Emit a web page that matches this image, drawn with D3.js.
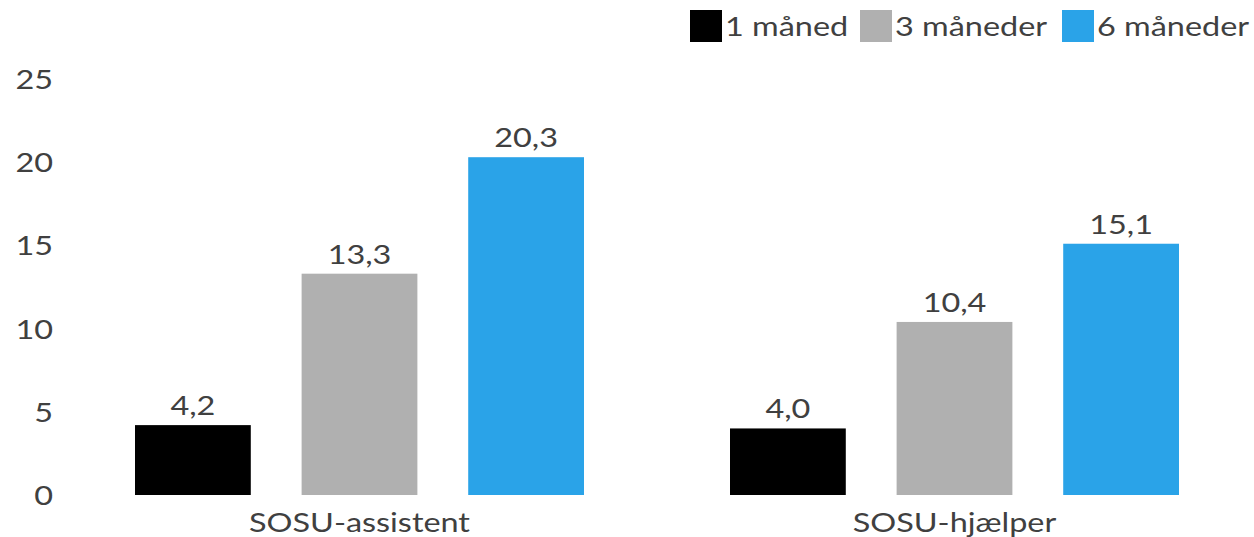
<!DOCTYPE html>
<html>
<head>
<meta charset="utf-8">
<script src="https://cdn.jsdelivr.net/npm/d3@7"></script>
<style>
  html, body { margin: 0; padding: 0; background: #ffffff; }
  svg { display: block; }
  text { font-family: Lato, "Open Sans", sans-serif; fill: #404040; }
</style>
</head>
<body>
<svg id="chart" width="1254" height="537"></svg>
<script>
const categories = ["SOSU-assistent", "SOSU-hjælper"];
const seriesNames = ["1 måned", "3 måneder", "6 måneder"];
const seriesColors = ["#000000", "#b0b0b0", "#2aa3e8"];
const values1 = [4.2, 4.0];
const values3 = [13.3, 10.4];
const values6 = [20.3, 15.1];
const yTicks = [0, 5, 10, 15, 20, 25];

const seriesValues = [values1, values3, values6];
const data = categories.map((c, i) => ({
  cat: c,
  vals: seriesNames.map((s, j) => ({ series: s, idx: j, value: seriesValues[j][i] }))
}));

const svg = d3.select("#chart");
const fontSize = 27;
const stretch = "scale(1.2,1)";

const y = d3.scaleLinear().domain([0, 25]).range([495, 79]);
const x0 = d3.scaleBand().domain(categories).range([62, 1252]).padding(0);
const x1 = d3.scaleBand().domain(seriesNames).range([73, 522]).paddingInner(0.305).paddingOuter(0);
const color = d3.scaleOrdinal().domain(seriesNames).range(seriesColors);
const fmt = v => d3.format(".1f")(v).replace(".", ",");

// Y axis
const yAxis = d3.axisLeft(y).tickValues(yTicks).tickSize(0).tickPadding(0).tickFormat(d => d);
const gy = svg.append("g").attr("transform", "translate(53,0)").call(yAxis);
gy.select(".domain").remove();
gy.selectAll("text").style("font-size", fontSize + "px").attr("fill", "#404040")
  .attr("dy", "0.35em").style("font-family", "Lato").attr("transform", stretch);

// X axis labels
const xAxis = d3.axisBottom(x0).tickSize(0).tickPadding(0);
const gx = svg.append("g").attr("transform", "translate(0,510)").call(xAxis);
gx.select(".domain").remove();
gx.selectAll("text").style("font-size", fontSize + "px").attr("fill", "#404040")
  .attr("dy", "0.8em").style("font-family", "Lato").attr("transform", stretch);

// Bars
const groups = svg.append("g").selectAll("g").data(data).join("g")
  .attr("transform", d => `translate(${x0(d.cat)},0)`);

groups.selectAll("rect").data(d => d.vals).join("rect")
  .attr("x", d => x1(d.series))
  .attr("y", d => y(d.value))
  .attr("width", x1.bandwidth())
  .attr("height", d => y(0) - y(d.value))
  .attr("fill", d => color(d.series));

groups.selectAll("g.val").data(d => d.vals).join("g")
  .attr("class", "val")
  .attr("transform", d => `translate(${x1(d.series) + x1.bandwidth() / 2},${y(d.value) - 10})`)
  .append("text")
  .attr("text-anchor", "middle")
  .attr("transform", stretch)
  .style("font-size", fontSize + "px")
  .text(d => fmt(d.value));

// Legend
const legendX = [690, 860, 1062];
const leg = svg.append("g").selectAll("g").data(seriesNames).join("g")
  .attr("transform", (d, i) => `translate(${legendX[i]},10)`);
leg.append("rect").attr("width", 32).attr("height", 32).attr("fill", d => color(d));
leg.append("g").attr("transform", "translate(35,26)")
  .append("text").attr("transform", stretch).style("font-size", fontSize + "px").text(d => d);
</script>
</body>
</html>
